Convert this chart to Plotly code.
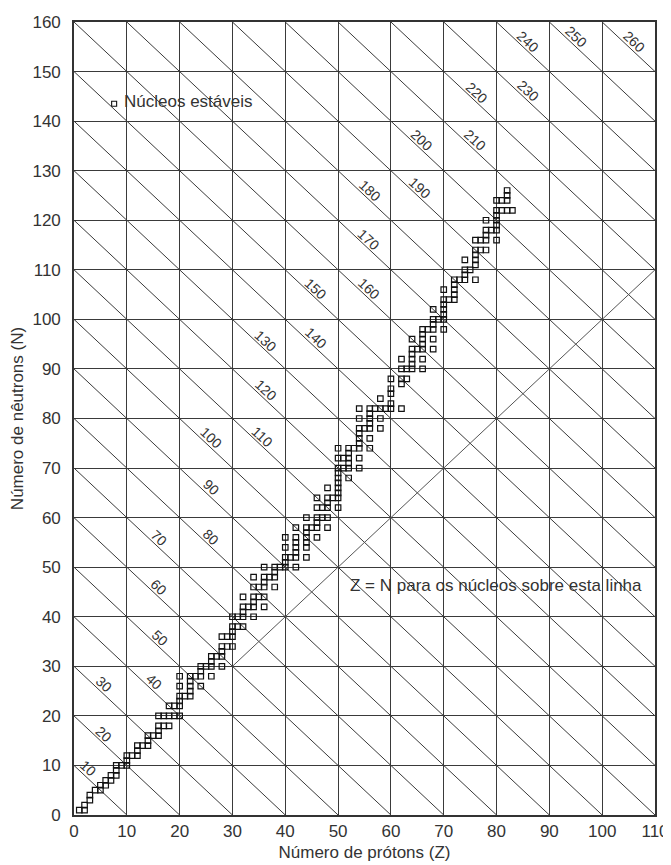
import plotly.graph_objects as go

# ---------------- data ----------------
# stable nuclei: proton number Z and neutron number N (parallel lists)
stable_Z = [
    1, 2, 2, 3, 3, 4, 5, 5, 6, 6, 7, 7, 8, 8, 8, 9, 10, 10, 10, 11,
    12, 12, 12, 13, 14, 14, 14, 15, 16, 16, 16, 16, 17, 17, 18, 18, 18, 19, 19,
    20, 20, 20, 20, 20, 20, 21, 22, 22, 22, 22, 22, 23, 24, 24, 24, 24, 25,
    26, 26, 26, 26, 27, 28, 28, 28, 28, 28, 29, 29, 30, 30, 30, 30, 30, 31, 31,
    32, 32, 32, 32, 32, 33, 34, 34, 34, 34, 34, 34, 35, 35,
    36, 36, 36, 36, 36, 36, 37, 38, 38, 38, 38, 39, 40, 40, 40, 40, 40, 41,
    42, 42, 42, 42, 42, 42, 42, 44, 44, 44, 44, 44, 44, 44, 45,
    46, 46, 46, 46, 46, 46, 47, 47, 48, 48, 48, 48, 48, 48, 49,
    50, 50, 50, 50, 50, 50, 50, 50, 50, 50, 51, 51, 52, 52, 52, 52, 52, 52, 53,
    54, 54, 54, 54, 54, 54, 54, 54, 54, 55, 56, 56, 56, 56, 56, 56, 56, 57,
    58, 58, 58, 58, 59, 60, 60, 60, 60, 60, 62, 62, 62, 62, 62, 63, 63,
    64, 64, 64, 64, 64, 64, 65, 66, 66, 66, 66, 66, 66, 66, 67,
    68, 68, 68, 68, 68, 68, 69, 70, 70, 70, 70, 70, 70, 70, 71,
    72, 72, 72, 72, 72, 73, 74, 74, 74, 74, 75, 76, 76, 76, 76, 76, 76, 77, 77,
    78, 78, 78, 78, 78, 79, 80, 80, 80, 80, 80, 80, 80, 81, 81,
    82, 82, 82, 82, 83,
]
stable_N = [
    1, 1, 2, 3, 4, 5, 5, 6, 6, 7, 7, 8, 8, 9, 10, 10, 10, 11, 12, 12,
    12, 13, 14, 14, 14, 15, 16, 16, 16, 17, 18, 20, 18, 20, 18, 20, 22, 20, 22,
    20, 22, 23, 24, 26, 28, 24, 24, 25, 26, 27, 28, 28, 26, 28, 29, 30, 30,
    28, 30, 31, 32, 32, 30, 32, 33, 34, 36, 34, 36, 34, 36, 37, 38, 40, 38, 40,
    38, 40, 41, 42, 44, 42, 40, 42, 43, 44, 46, 48, 44, 46,
    42, 44, 46, 47, 48, 50, 48, 46, 48, 49, 50, 50, 50, 51, 52, 54, 56, 52,
    50, 52, 53, 54, 55, 56, 58, 52, 54, 55, 56, 57, 58, 60, 58,
    56, 58, 59, 60, 62, 64, 60, 62, 58, 60, 62, 63, 64, 66, 64,
    62, 64, 65, 66, 67, 68, 69, 70, 72, 74, 70, 72, 68, 70, 71, 72, 73, 74, 74,
    70, 72, 74, 75, 76, 77, 78, 80, 82, 78, 74, 76, 78, 79, 80, 81, 82, 82,
    78, 80, 82, 84, 82, 82, 83, 85, 86, 88, 82, 87, 88, 90, 92, 88, 90,
    90, 91, 92, 93, 94, 96, 94, 90, 92, 94, 95, 96, 97, 98, 98,
    94, 96, 98, 99, 100, 102, 100, 98, 100, 101, 102, 103, 104, 106, 104,
    104, 105, 106, 107, 108, 108, 108, 109, 110, 112, 110, 108, 111, 112, 113, 114, 116, 114, 116,
    114, 116, 117, 118, 120, 118, 116, 118, 119, 120, 121, 122, 124, 122, 124,
    122, 124, 125, 126, 122,
]

# mass-number lines A = Z + N and their labels
mass_numbers = [10, 20, 30, 40, 50, 60, 70, 80, 90, 100, 110, 120, 130,
                140, 150, 160, 170, 180, 190, 200, 210, 220, 230, 240, 250, 260]
mass_labels = [str(a) for a in mass_numbers]

x_ticks = [0, 10, 20, 30, 40, 50, 60, 70, 80, 90, 100, 110]
y_ticks = [0, 10, 20, 30, 40, 50, 60, 70, 80, 90, 100, 110, 120, 130, 140, 150, 160]

# ---------------- layout settings ----------------
X_MAX, Y_MAX = 110, 160
label_x = [2.6, 5.6, 5.6, 15.2, 16.3, 16.0, 16.1, 25.9, 25.9, 26.0, 35.7, 36.3, 36.3,
           45.8, 45.8, 55.9, 55.9, 56.1, 65.5, 65.8, 75.9, 76.3, 86.0, 86.0, 95.1, 106.1]
label_offset = 2.0
zn_range = (30, 110)
FONT = "Liberation Sans"
TXT = "#333333"

fig = go.Figure()

# diagonal A lines clipped to the box
dx, dy = [], []
for a in mass_numbers:
    x0 = max(0, a - Y_MAX)
    x1 = min(X_MAX, a)
    dx += [x0, x1, None]
    dy += [a - x0, a - x1, None]
fig.add_trace(go.Scatter(x=dx, y=dy, mode="lines",
                         line=dict(color="#3a3a3a", width=1),
                         hoverinfo="skip", showlegend=False))

# Z = N line
fig.add_trace(go.Scatter(x=list(zn_range), y=list(zn_range), mode="lines",
                         line=dict(color="#555555", width=1),
                         hoverinfo="skip", showlegend=False))

# stable nuclei
fig.add_trace(go.Scatter(x=stable_Z, y=stable_N, mode="markers",
                         marker=dict(symbol="square-open", size=5.5, color="#111111",
                                     line=dict(width=1.2)),
                         name="Núcleos estáveis", showlegend=False))

annotations = []
for a, lab, lx in zip(mass_numbers, mass_labels, label_x):
    annotations.append(dict(x=lx, y=a - lx + label_offset, text=lab, showarrow=False,
                            textangle=43, font=dict(family=FONT, size=14, color=TXT),
                            xanchor="center", yanchor="middle"))

# legend-like label
annotations.append(dict(x=9.0, y=143.9, text="Núcleos estáveis", showarrow=False,
                        xanchor="left", yanchor="middle",
                        font=dict(family=FONT, size=17, color=TXT)))
annotations.append(dict(x=79.9, y=46.4, text="Z = N para os núcleos sobre esta linha",
                        showarrow=False, xanchor="center", yanchor="middle",
                        font=dict(family=FONT, size=17, color=TXT)))

shapes = [dict(type="rect", xref="x", yref="y", xsizemode="pixel", ysizemode="pixel",
               xanchor=7.6, yanchor=143.5, x0=-2.5, x1=2.5, y0=-2.5, y1=2.5,
               line=dict(color="#111111", width=1.1), fillcolor="white")]

# the page body adds an 8px margin, so the figure is 8px smaller than the window
fig.update_layout(
    width=663, height=857,
    margin=dict(l=66, r=16, t=14, b=50, autoexpand=False),
    paper_bgcolor="white", plot_bgcolor="white",
    annotations=annotations, shapes=shapes,
    font=dict(family=FONT, size=17, color=TXT),
    showlegend=False,
)
fig.update_xaxes(range=[0, X_MAX], tickvals=x_ticks, ticktext=[str(v) for v in x_ticks],
                 automargin=False,
                 showgrid=True, gridcolor="#3a3a3a", gridwidth=1.2,
                 showline=True, mirror=True, linecolor="#333333", linewidth=1.6,
                 zeroline=False, ticks="", tickfont=dict(family=FONT, size=17, color=TXT),
                 title=dict(text="Número de prótons (Z)", standoff=6,
                            font=dict(family=FONT, size=17, color=TXT)))
fig.update_yaxes(range=[0, Y_MAX], tickvals=y_ticks, ticktext=[str(v) for v in y_ticks],
                 automargin=False,
                 showgrid=True, gridcolor="#3a3a3a", gridwidth=1.2,
                 showline=True, mirror=True, linecolor="#333333", linewidth=1.6,
                 zeroline=False, ticks="", ticklabelstandoff=8,
                 tickfont=dict(family=FONT, size=17, color=TXT),
                 title=dict(text="Número de nêutrons (N)", standoff=6,
                            font=dict(family=FONT, size=17, color=TXT)))

fig.write_html("out.html")
